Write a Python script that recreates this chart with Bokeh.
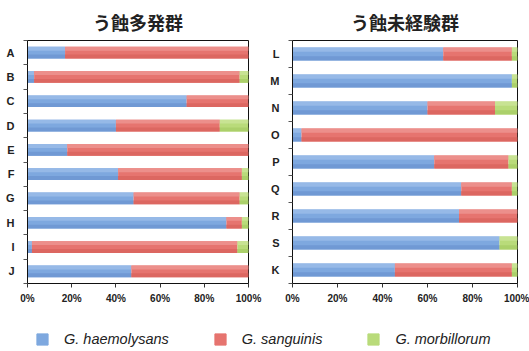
from bokeh.plotting import figure
from bokeh.models import (ColumnDataSource, Range1d, FixedTicker, Legend, LegendItem,
                          CustomJSTickFormatter)
from bokeh.transform import dodge
from bokeh.layouts import column, row
from bokeh.embed import file_html
from bokeh.resources import INLINE

# Species share (%) per subject
species = ["G. haemolysans", "G. sanguinis", "G. morbillorum"]
colors = ["#7ea8df", "#e6746f", "#b9db7a"]
# shading bands for a soft vertical gradient on each bar
colors_light = ["#96b9e7", "#ec8f8b", "#c8e393"]
colors_dark = ["#7099d4", "#dc6761", "#abd06a"]

left_title = "う蝕多発群"
left_cats = ["A", "B", "C", "D", "E", "F", "G", "H", "I", "J"]
left_haem = [17, 3, 72, 40, 18, 41, 48, 90, 2, 47]
left_sang = [83, 93, 28, 47, 82, 56, 48, 7, 93, 53]
left_morb = [0, 4, 0, 13, 0, 3, 4, 3, 5, 0]

right_title = "う蝕未経験群"
right_cats = ["L", "M", "N", "O", "P", "Q", "R", "S", "K"]
right_haem = [67, 97.5, 60, 4, 63, 75, 74, 92, 45.5]
right_sang = [30.5, 0, 30, 96, 33, 22.5, 26, 0, 52]
right_morb = [2.5, 2.5, 10, 0, 4, 2.5, 0, 8, 2.5]

x_ticks = [0, 20, 40, 60, 80, 100]

LABEL_FONT = "Liberation Sans"
CJK_FONT = "Noto Sans CJK JP"
BAR_H = 0.48


def panel(title, cats, haem, sang, morb, width, border_right, title_offset):
    n = len(cats)
    ys = [n - i - 0.5 for i in range(n)]
    src = ColumnDataSource(dict(y=ys, haem=haem, sang=sang, morb=morb))
    stack = ["haem", "sang", "morb"]

    p = figure(width=width, height=310, output_backend="svg", toolbar_location=None,
               x_range=Range1d(0, 100), y_range=Range1d(0, n),
               min_border_left=27, min_border_right=border_right,
               min_border_top=33, min_border_bottom=27,
               title=title)
    # full bar, then lighter top band and darker bottom band
    p.hbar_stack(stack, y="y", height=BAR_H, source=src, color=colors, line_color=None)
    p.hbar_stack(stack, y=dodge("y", BAR_H / 3, range=p.y_range), height=BAR_H / 3,
                 source=src, color=colors_light, line_color=None)
    p.hbar_stack(stack, y=dodge("y", -BAR_H / 3, range=p.y_range), height=BAR_H / 3,
                 source=src, color=colors_dark, line_color=None)

    p.title.align = "center"
    p.title.text_font = CJK_FONT
    p.title.text_font_size = "18px"
    p.title.text_font_style = "bold"
    p.title.text_color = "#222222"
    p.title.offset = title_offset
    p.title.standoff = 12

    p.xgrid.visible = False
    p.ygrid.visible = False
    p.outline_line_color = "#111111"
    p.outline_line_width = 1
    p.background_fill_color = "white"
    p.border_fill_color = "white"

    xa = p.xaxis[0]
    xa.ticker = FixedTicker(ticks=x_ticks)
    xa.formatter = CustomJSTickFormatter(code="return tick + '%';")
    xa.major_label_text_font = LABEL_FONT
    xa.major_label_text_font_style = "bold"
    xa.major_label_text_font_size = "10px"
    xa.major_label_text_color = "#222222"
    xa.major_tick_in = 0
    xa.major_tick_out = 4
    xa.minor_tick_line_color = None
    xa.axis_line_color = "#111111"
    xa.major_tick_line_color = "#333333"
    xa.major_label_standoff = 5

    ya = p.yaxis[0]
    ya.ticker = FixedTicker(ticks=ys, minor_ticks=list(range(n + 1)))
    ya.major_label_overrides = {y: c for y, c in zip(ys, cats)}
    ya.major_label_text_font = LABEL_FONT
    ya.major_label_text_font_style = "bold"
    ya.major_label_text_font_size = "11px"
    ya.major_label_text_color = "#222222"
    ya.major_tick_line_color = None
    ya.major_tick_in = 0
    ya.major_tick_out = 0
    ya.minor_tick_in = 0
    ya.minor_tick_out = 4
    ya.minor_tick_line_color = "#555555"
    ya.axis_line_color = "#111111"
    ya.major_label_standoff = 9
    return p


left = panel(left_title, left_cats, left_haem, left_sang, left_morb, 265, 17, -11)
right = panel(right_title, right_cats, right_haem, right_sang, right_morb, 264, 12, -1)

# Shared legend along the bottom; the swatch renderers hold no drawable point
leg = figure(width=529, height=41, output_backend="svg", toolbar_location=None,
             min_border=0, x_range=Range1d(0, 1), y_range=Range1d(0, 1))
leg.xaxis.visible = False
leg.yaxis.visible = False
leg.xgrid.visible = False
leg.ygrid.visible = False
leg.outline_line_color = None
nan = float("nan")
proxies = [leg.hbar(y=[nan], right=[nan], height=1, color=c) for c in colors]
legend = Legend(items=[LegendItem(label=s, renderers=[r]) for s, r in zip(species, proxies)],
                orientation="horizontal", location=(35, 4),
                label_text_font=LABEL_FONT, label_text_font_style="italic",
                label_text_font_size="14.5px", label_text_color="#222222",
                glyph_width=14, glyph_height=14, label_standoff=15, spacing=44,
                padding=0, margin=0, border_line_color=None, background_fill_alpha=0)
leg.add_layout(legend)

page = column(row(left, right), leg)
open("out.html", "w").write(file_html(page, INLINE))
